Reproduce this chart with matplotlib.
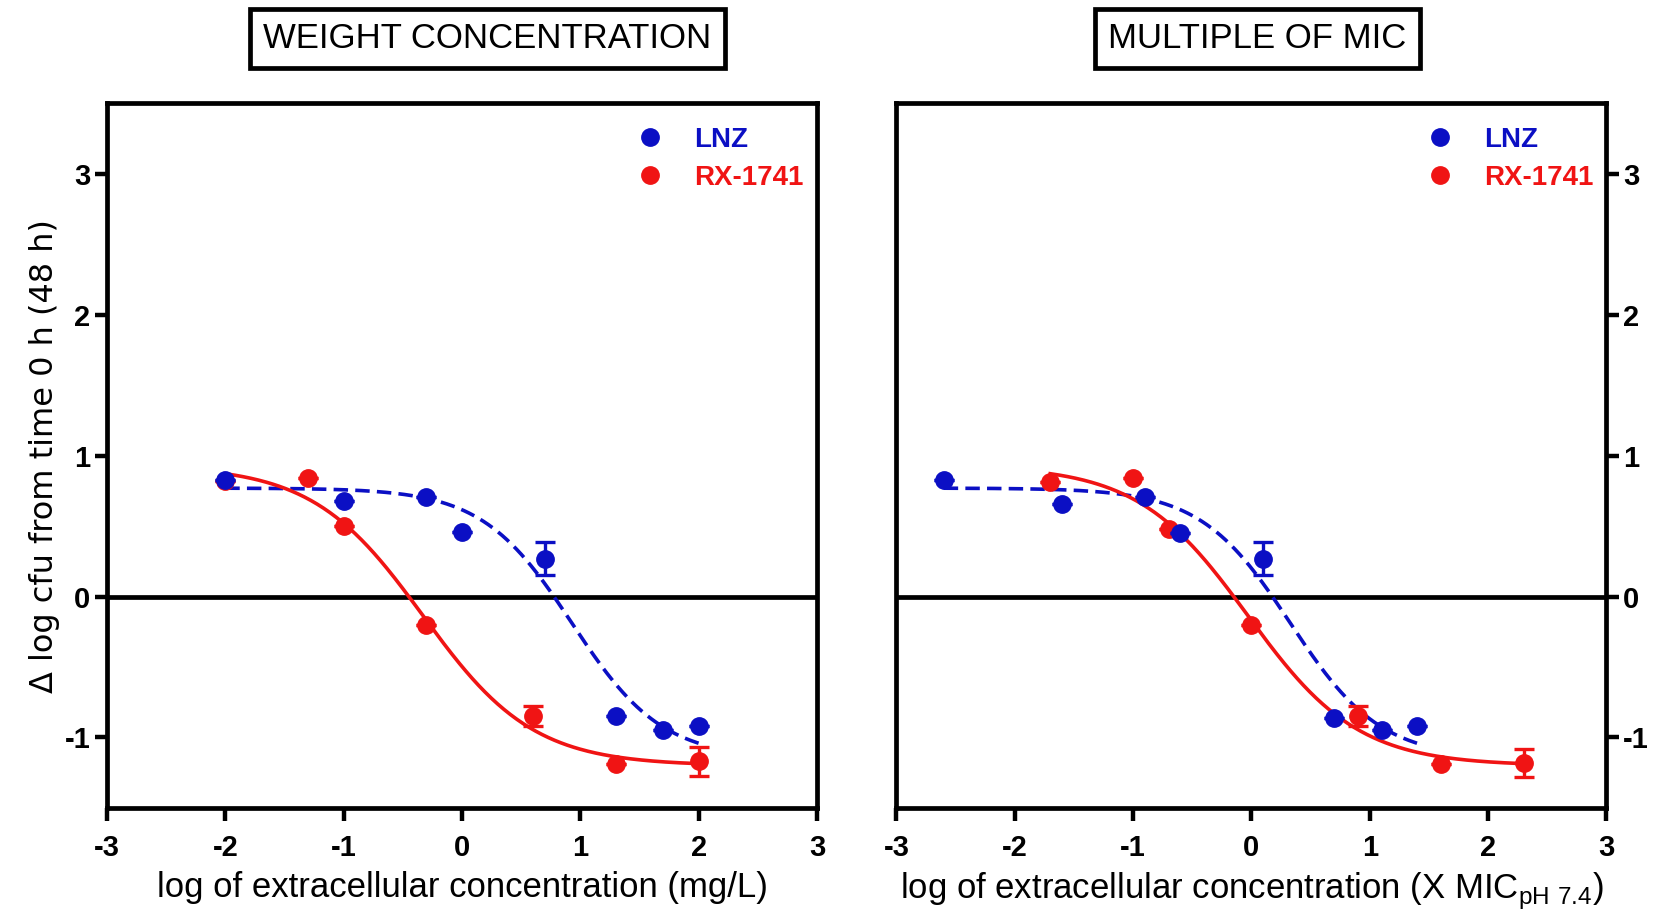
import numpy as np
import matplotlib
matplotlib.use("Agg")
import matplotlib.pyplot as plt
from matplotlib.lines import Line2D

plt.rcParams["axes.unicode_minus"] = False

# ---------------- data ----------------
# Left panel: weight concentration (log mg/L)
lnz_x_weight = [-2.0, -1.0, -0.3, 0.0, 0.7, 1.3, 1.7, 2.0]
lnz_y_weight = [0.83, 0.68, 0.71, 0.46, 0.27, -0.85, -0.95, -0.92]
lnz_err_weight = [0, 0, 0, 0, 0.12, 0, 0, 0]
rx_x_weight = [-2.0, -1.3, -1.0, -0.3, 0.6, 1.3, 2.0]
rx_y_weight = [0.82, 0.84, 0.50, -0.20, -0.85, -1.19, -1.17]
rx_err_weight = [0, 0, 0, 0, 0.07, 0, 0.10]

# Right panel: multiple of MIC (log X MIC)
lnz_x_mic = [-2.6, -1.6, -0.9, -0.6, 0.1, 0.7, 1.1, 1.4]
lnz_y_mic = [0.83, 0.66, 0.71, 0.45, 0.27, -0.86, -0.95, -0.92]
lnz_err_mic = [0, 0, 0, 0, 0.12, 0, 0, 0]
rx_x_mic = [-1.7, -1.0, -0.7, 0.0, 0.9, 1.6, 2.3]
rx_y_mic = [0.81, 0.84, 0.48, -0.20, -0.85, -1.19, -1.18]
rx_err_mic = [0, 0, 0, 0, 0.07, 0, 0.10]

# Fitted Hill (sigmoid) parameters: top, bottom, logEC50, slope
lnz_fit_weight = [0.77, -1.15, 0.93, 1.14]
rx_fit_weight = [0.93, -1.20, -0.33, 0.93]
lnz_fit_mic = [0.77, -1.15, 0.33, 1.14]
rx_fit_mic = [0.93, -1.20, -0.03, 0.93]

xticks = [-3, -2, -1, 0, 1, 2, 3]
yticks = [-1, 0, 1, 2, 3]
labels = ["LNZ", "RX-1741"]
titles = ["WEIGHT CONCENTRATION", "MULTIPLE OF MIC"]
xlabels = ["log of extracellular concentration (mg/L)",
           "log of extracellular concentration (X MIC$_{\\mathregular{pH\\ 7.4}}$)"]
ylabel = "\u0394 log cfu from time 0 h (48 h)"

BLUE = "#0b0fc4"
RED = "#f01414"
ARIAL = ["Liberation Sans", "DejaVu Sans"]
WIDE = ["DejaVu Sans"]


def hill(x, p):
    top, bottom, ec50, slope = p
    return bottom + (top - bottom) / (1 + 10 ** (slope * (x - ec50)))


fig = plt.figure(figsize=(16.63, 9.15), dpi=100)
ax1 = fig.add_axes([0.0643, 0.117, 0.427, 0.770])
ax2 = fig.add_axes([0.539, 0.117, 0.427, 0.770])

panels = [
    (ax1, lnz_x_weight, lnz_y_weight, lnz_err_weight, rx_x_weight, rx_y_weight, rx_err_weight,
     lnz_fit_weight, rx_fit_weight),
    (ax2, lnz_x_mic, lnz_y_mic, lnz_err_mic, rx_x_mic, rx_y_mic, rx_err_mic,
     lnz_fit_mic, rx_fit_mic),
]

for i, (ax, lx, ly, le, rx, ry, re, lfit, rfit) in enumerate(panels):
    ax.axhline(0, color="black", lw=3.4, zorder=1)
    xl = np.linspace(min(lx), max(lx), 300)
    ax.plot(xl, hill(xl, lfit), color=BLUE, lw=2.6, dashes=(4, 2), zorder=2)
    xr = np.linspace(min(rx), max(rx), 300)
    ax.plot(xr, hill(xr, rfit), color=RED, lw=2.6, zorder=2)

    ax.errorbar(lx, ly, yerr=le, fmt="o", color=BLUE, ms=12.5, elinewidth=2.4,
                capsize=7, capthick=2.4, zorder=4)
    ax.errorbar(rx, ry, yerr=re, fmt="o", color=RED, ms=12.5, elinewidth=2.4,
                capsize=7, capthick=2.4, zorder=3)

    ax.set_xlim(-3, 3)
    ax.set_ylim(-1.5, 3.5)
    ax.set_xticks(xticks)
    ax.set_yticks(yticks)
    for sp in ax.spines.values():
        sp.set_linewidth(3.4)
    if i == 1:
        ax.yaxis.tick_right()
    ax.tick_params(axis="both", direction="out", length=9, width=3.2, labelsize=21)
    ax.tick_params(axis="x", pad=10)
    ax.tick_params(axis="y", pad=3)
    for lab in ax.get_xticklabels() + ax.get_yticklabels():
        lab.set_fontfamily(ARIAL)
        lab.set_fontweight("bold")

    ax.set_xlabel(xlabels[i], fontsize=25, family=ARIAL, labelpad=6)

    handles = [Line2D([], [], marker="o", ls="", color=BLUE, ms=12.5),
               Line2D([], [], marker="o", ls="", color=RED, ms=12.5)]
    leg = ax.legend(handles, labels, loc="upper right", frameon=False,
                    prop={"family": ARIAL, "weight": "bold", "size": 20},
                    handletextpad=1.0, labelspacing=0.42, borderaxespad=0.2,
                    bbox_to_anchor=(1.005, 0.99), handlelength=1.2)
    for txt, c in zip(leg.get_texts(), [BLUE, RED]):
        txt.set_color(c)

ax1.set_ylabel(ylabel, fontsize=23, family=WIDE, labelpad=3)

title_x = [0.293, 0.756]
for tx, t in zip(title_x, titles):
    fig.text(tx, 0.958, t, ha="center", va="center", fontsize=25, family=ARIAL,
             bbox=dict(boxstyle="square,pad=0.38", fc="white", ec="black", lw=3.4))

fig.savefig("out.png", dpi=100)
